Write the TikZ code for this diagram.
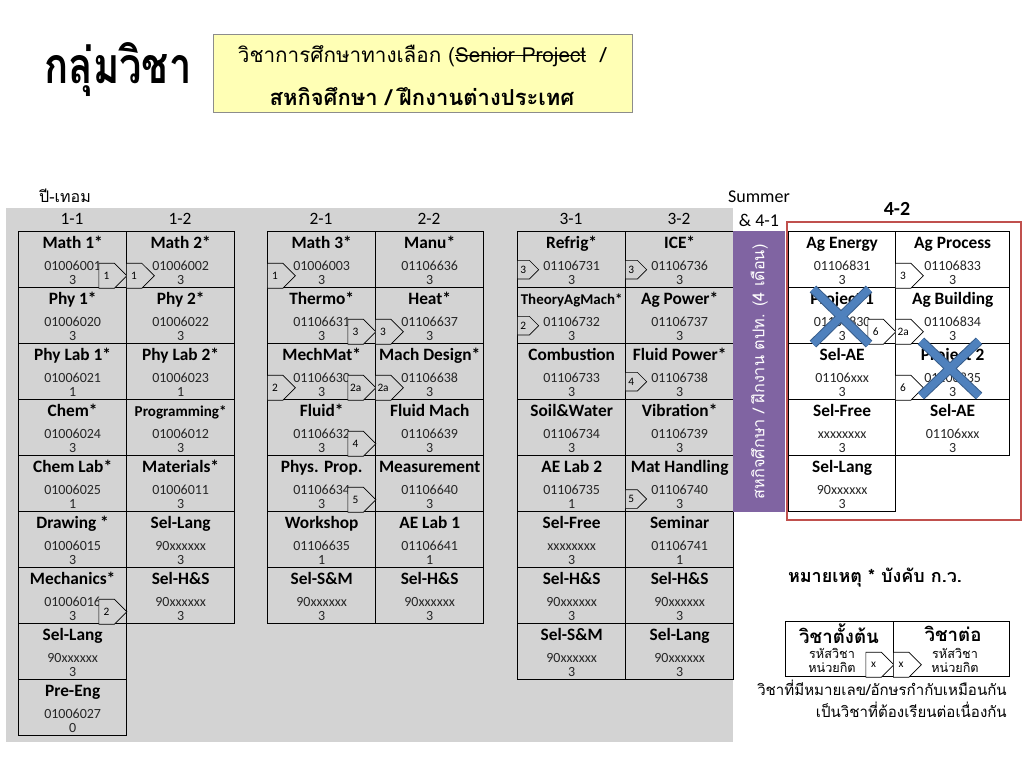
\documentclass[tikz,border=0pt]{standalone}
\usepackage{fontspec}
\setmainfont{Carlito}
\newfontfamily\thai[Script=Thai]{Loma}
\usetikzlibrary{shapes.symbols}
\newcommand\strikeit[1]{{\setbox0=\hbox{#1}\rlap{\rule[0.3em]{\wd0}{0.06em}}\box0}}
\definecolor{bggray}{RGB}{211,211,211}
\definecolor{purp}{RGB}{128,100,162}
\definecolor{redbox}{RGB}{192,80,77}
\definecolor{yel}{RGB}{255,255,181}
\definecolor{xblue}{RGB}{79,129,189}
\definecolor{xdark}{RGB}{56,93,138}
\tikzset{
 cellbox/.style={draw=black, line width=1pt, minimum height=42pt, inner sep=0pt, anchor=north west},
 ctitle/.style={font=\fontsize{13}{13}\selectfont\bfseries, inner sep=0pt, anchor=base},
 ccode/.style={font=\fontsize{10.5}{11}\selectfont, text=black!85, inner sep=0pt, anchor=base},
 tagbox/.style={signal, signal to=east, draw=black, line width=0.5pt, fill=bggray,
   font=\fontsize{8.5}{9}\selectfont, inner sep=0pt, minimum height=18.75pt, minimum width=21pt},
 tagsmall/.style={tagbox, minimum height=14pt, minimum width=16pt},
 hdr/.style={font=\fontsize{13}{13}\selectfont, inner sep=0pt},
 xcrossa/.style={xdark, line width=7pt},
 xcrossb/.style={xblue, line width=5.5pt},
}
\newcommand\course[7][81pt]{%
 \node[cellbox, minimum width=#1] (#2) at (#3,#4) {};
 \node[ctitle] (#2-t) at ([yshift=-12.75pt]#2.north) {#5};
 \node[ccode] (#2-c) at ([yshift=-29.25pt]#2.north) {#6};
 \node[ccode] (#2-k) at ([yshift=-39.75pt]#2.north) {#7};
}
\begin{document}
\begin{tikzpicture}[x=0.75pt,y=-0.75pt]
\useasboundingbox (0,0) rectangle (1024,768);
\fill[white] (0,0) rectangle (1024,768);
% title
\node[font=\thai\fontsize{30}{30}\selectfont\bfseries, inner sep=0pt] (title) at (118,70) {\scalebox{1}[1.25]{กลุ่มวิชา}};
\node[draw=black!45, fill=yel, line width=0.6pt, minimum width=314.25pt, minimum height=58.5pt, anchor=north west, inner sep=0pt] (ybox) at (213,34) {};
\node[font=\thai\fontsize{15.5}{16}\selectfont, inner sep=0pt] (yl1) at (422,56) {วิชาการศึกษาทางเลือก (\strikeit{Senior Project}~~/};
\node[font=\thai\fontsize{16.5}{17}\selectfont\bfseries, inner sep=0pt] (yl2) at (422,97) {สหกิจศึกษา / ฝึกงานต่างประเทศ};
% labels
\node[font=\thai\fontsize{12}{12}\selectfont, inner sep=0pt] (pt) at (65,196) {ปี-เทอม};
\fill[bggray] (6,208) rectangle (733,742);
\node[hdr] (h11) at (72,219) {1-1};
\node[hdr] (h12) at (180,219) {1-2};
\node[hdr] (h21) at (321,219) {2-1};
\node[hdr] (h22) at (429,219) {2-2};
\node[hdr] (h31) at (571,219) {3-1};
\node[hdr] (h32) at (679,219) {3-2};
\node[hdr, font=\fontsize{13.5}{14}\selectfont] (hs1) at (759,197) {Summer};
\node[hdr, font=\fontsize{13.5}{14}\selectfont] (hs2) at (759,220) {\& 4-1};
\node[font=\fontsize{15}{15}\selectfont\bfseries, inner sep=0pt] (h42) at (897,209) {4-2};
% year 1
\course{a1}{18}{231}{Math 1*}{01006001}{3}
\course{a2}{18}{287}{Phy 1*}{01006020}{3}
\course{a3}{18}{343}{Phy Lab 1*}{01006021}{1}
\course{a4}{18}{399}{Chem*}{01006024}{3}
\course{a5}{18}{455}{Chem Lab*}{01006025}{1}
\course{a6}{18}{511}{Drawing *}{01006015}{3}
\course{a7}{18}{567}{Mechanics*}{01006016}{3}
\course{a8}{18}{623}{Sel-Lang}{90xxxxxx}{3}
\course{a9}{18}{679}{Pre-Eng}{01006027}{0}
\course{b1}{126}{231}{Math 2*}{01006002}{3}
\course{b2}{126}{287}{Phy 2*}{01006022}{3}
\course{b3}{126}{343}{Phy Lab 2*}{01006023}{1}
\course{b4}{126}{399}{{\fontsize{11.3}{11}\selectfont Programming*}}{01006012}{3}
\course{b5}{126}{455}{Materials*}{01006011}{3}
\course{b6}{126}{511}{Sel-Lang}{90xxxxxx}{3}
\course{b7}{126}{567}{Sel-H\&S}{90xxxxxx}{3}
% year 2
\course{c1}{267}{231}{Math 3*}{01006003}{3}
\course{c2}{267}{287}{Thermo*}{01106631}{3}
\course{c3}{267}{343}{MechMat*}{01106630}{3}
\course{c4}{267}{399}{Fluid*}{01106632}{3}
\course{c5}{267}{455}{Phys. Prop.}{01106634}{3}
\course{c6}{267}{511}{Workshop}{01106635}{1}
\course{c7}{267}{567}{Sel-S\&M}{90xxxxxx}{3}
\course{d1}{375}{231}{Manu*}{01106636}{3}
\course{d2}{375}{287}{Heat*}{01106637}{3}
\course{d3}{375}{343}{Mach Design*}{01106638}{3}
\course{d4}{375}{399}{Fluid Mach}{01106639}{3}
\course{d5}{375}{455}{Measurement}{01106640}{3}
\course{d6}{375}{511}{AE Lab 1}{01106641}{1}
\course{d7}{375}{567}{Sel-H\&S}{90xxxxxx}{3}
% year 3
\course{e1}{517}{231}{Refrig*}{01106731}{3}
\course{e2}{517}{287}{{\fontsize{11.2}{11}\selectfont TheoryAgMach*}}{01106732}{3}
\course{e3}{517}{343}{Combustion}{01106733}{3}
\course{e4}{517}{399}{Soil\&Water}{01106734}{3}
\course{e5}{517}{455}{AE Lab 2}{01106735}{1}
\course{e6}{517}{511}{Sel-Free}{xxxxxxxx}{3}
\course{e7}{517}{567}{Sel-H\&S}{90xxxxxx}{3}
\course{e8}{517}{623}{Sel-S\&M}{90xxxxxx}{3}
\course{f1}{625}{231}{ICE*}{01106736}{3}
\course{f2}{625}{287}{Ag Power*}{01106737}{3}
\course{f3}{625}{343}{Fluid Power*}{01106738}{3}
\course{f4}{625}{399}{Vibration*}{01106739}{3}
\course{f5}{625}{455}{Mat Handling}{01106740}{3}
\course{f6}{625}{511}{Seminar}{01106741}{1}
\course{f7}{625}{567}{Sel-H\&S}{90xxxxxx}{3}
\course{f8}{625}{623}{Sel-Lang}{90xxxxxx}{3}
% summer bar
\node[fill=purp, minimum width=39pt, minimum height=210.75pt, anchor=north west, inner sep=0pt] (coop) at (733,231) {};
\node[rotate=90, text=white, font=\thai\fontsize{12.2}{12}\selectfont, inner sep=0pt] (coopt) at (coop.center) {สหกิจศึกษา / ฝึกงาน ตปท. (4 เดือน)};
% year 4
\draw[redbox, line width=2pt] (787,222) rectangle (1021,520);
\course[80.25pt]{g1}{788}{231}{Ag Energy}{01106831}{3}
\course[80.25pt]{g2}{788}{287}{Project 1}{01106830}{3}
\course[80.25pt]{g3}{788}{343}{Sel-AE}{01106xxx}{3}
\course[80.25pt]{g4}{788}{399}{Sel-Free}{xxxxxxxx}{3}
\course[80.25pt]{g5}{788}{455}{Sel-Lang}{90xxxxxx}{3}
\course[85.5pt]{h1}{895}{231}{Ag Process}{01106833}{3}
\course[85.5pt]{h2}{895}{287}{Ag Building}{01106834}{3}
\course[85.5pt]{h3}{895}{343}{Project 2}{01106835}{3}
\course[85.5pt]{h4}{895}{399}{Sel-AE}{01106xxx}{3}
% tags
\node[tagbox, anchor=east] (ta1) at ([yshift=9.4pt]a1.south east) {1\hspace{6pt}};
\node[tagbox, anchor=west] (tb1) at ([yshift=9.4pt]b1.south west) {1\hspace{6pt}};
\node[tagbox, anchor=east] (ta7) at ([yshift=9.4pt]a7.south east) {2\hspace{6pt}};
\node[tagbox, anchor=west] (tc1) at ([yshift=9.4pt]c1.south west) {1\hspace{6pt}};
\node[tagbox, anchor=east] (tc2) at ([yshift=9.4pt]c2.south east) {3\hspace{6pt}};
\node[tagbox, anchor=west] (td2) at ([yshift=9.4pt]d2.south west) {3\hspace{6pt}};
\node[tagbox, anchor=west] (tc3i) at ([yshift=9.4pt]c3.south west) {2\hspace{6pt}};
\node[tagbox, anchor=east] (tc3o) at ([yshift=9.4pt]c3.south east) {2a\hspace{4pt}};
\node[tagbox, anchor=west] (td3) at ([yshift=9.4pt]d3.south west) {2a\hspace{4pt}};
\node[tagbox, anchor=east] (tc4) at ([yshift=9.4pt]c4.south east) {4\hspace{6pt}};
\node[tagbox, anchor=east] (tc5) at ([yshift=9.4pt]c5.south east) {5\hspace{6pt}};
\node[tagsmall, anchor=west] (te1) at ([yshift=14pt]e1.south west) {3\hspace{5pt}};
\node[tagsmall, anchor=west] (tf1) at ([yshift=14pt]f1.south west) {3\hspace{5pt}};
\node[tagsmall, anchor=west] (te2) at ([yshift=14pt]e2.south west) {2\hspace{5pt}};
\node[tagsmall, anchor=west] (tf3) at ([yshift=14pt]f3.south west) {4\hspace{5pt}};
\node[tagsmall, anchor=west] (tf5) at ([yshift=10pt]f5.south west) {5\hspace{5pt}};
\node[tagbox, fill=white, anchor=west] (th1) at ([yshift=9.4pt]h1.south west) {3\hspace{6pt}};
\node[tagbox, fill=white, anchor=east] (tg2) at ([yshift=9.4pt]g2.south east) {6\hspace{6pt}};
\node[tagbox, fill=white, anchor=west] (th2) at ([yshift=9.4pt]h2.south west) {2a\hspace{4pt}};
\node[tagbox, fill=white, anchor=west] (th3) at ([yshift=9.4pt]h3.south west) {6\hspace{6pt}};
% crosses
\draw[xcrossa] (813,289) -- (869,344) (869,289) -- (813,344);
\draw[xcrossb] (813,289) -- (869,344) (869,289) -- (813,344);
\draw[xcrossa] (921,341) -- (979,396) (979,341) -- (921,396);
\draw[xcrossb] (921,341) -- (979,396) (979,341) -- (921,396);
% legend
\node[font=\thai\fontsize{13.5}{14}\selectfont\bfseries, inner sep=0pt] (note) at (875,578) {หมายเหตุ * บังคับ ก.ว.};
\node[cellbox, minimum width=81pt, minimum height=41.25pt] (lg1) at (785,621) {};
\node[cellbox, minimum width=87pt, minimum height=41.25pt] (lg2) at (893,621) {};
\node[font=\thai\fontsize{14}{14}\selectfont\bfseries, inner sep=0pt] (lg1t) at (839,634) {วิชาตั้งต้น};
\node[font=\thai\fontsize{9.5}{10}\selectfont, inner sep=0pt] (lg1c) at (832,653) {รหัสวิชา};
\node[font=\thai\fontsize{9.5}{10}\selectfont, inner sep=0pt] (lg1k) at (832,667) {หน่วยกิต};
\node[font=\thai\fontsize{14}{14}\selectfont\bfseries, inner sep=0pt] (lg2t) at (953,634) {วิชาต่อ};
\node[font=\thai\fontsize{9.5}{10}\selectfont, inner sep=0pt] (lg2c) at (955,653) {รหัสวิชา};
\node[font=\thai\fontsize{9.5}{10}\selectfont, inner sep=0pt] (lg2k) at (955,667) {หน่วยกิต};
\node[tagbox, fill=white, anchor=east] (tlg1) at ([yshift=9.4pt]lg1.south east) {x\hspace{6pt}};
\node[tagbox, fill=white, anchor=west] (tlg2) at ([yshift=9.4pt]lg2.south west) {x\hspace{6pt}};
\node[font=\thai\fontsize{11.3}{11}\selectfont, inner sep=0pt, anchor=east] (n1) at (1007,688) {วิชาที่มีหมายเลข/อักษรกำกับเหมือนกัน};
\node[font=\thai\fontsize{11.3}{11}\selectfont, inner sep=0pt, anchor=east] (n2) at (1007,710) {เป็นวิชาที่ต้องเรียนต่อเนื่องกัน};
\end{tikzpicture}
\end{document}
